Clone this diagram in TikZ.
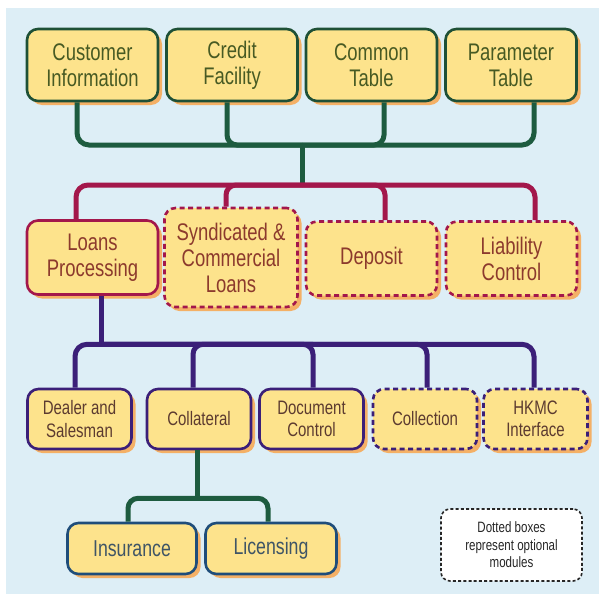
\documentclass[tikz,border=0pt]{standalone}
\usepackage{fontspec}
\setmainfont{Liberation Sans}
\newfontfamily\cond[FakeStretch=0.77]{Liberation Sans}
\usetikzlibrary{shadows,calc}
\definecolor{bgc}{HTML}{DDEEF6}
\definecolor{boxc}{HTML}{FDE38C}
\definecolor{shc}{HTML}{F4B066}
\definecolor{gdark}{HTML}{1E5036}
\definecolor{gline}{HTML}{1D5B3F}
\definecolor{gtext}{HTML}{475A23}
\definecolor{rline}{HTML}{A3174B}
\definecolor{rtext}{HTML}{8C3A2D}
\definecolor{pline}{HTML}{3B1F78}
\definecolor{ptext}{HTML}{5C3B30}
\definecolor{bline}{HTML}{1F4D7A}
\definecolor{btext}{HTML}{3F5566}
\tikzset{
  box/.style={rectangle, rounded corners=11pt, fill=boxc, line width=2.6pt,
    align=center, inner sep=0pt,
    drop shadow={shadow xshift=4pt, shadow yshift=-4pt, fill=shc, opacity=1}},
  topbox/.style={box, draw=gdark, text=gtext, font=\cond\fontsize{24}{26}\selectfont,
    minimum width=131pt, minimum height=72pt},
  midbox/.style={box, draw=rline, text=rtext, font=\cond\fontsize{24}{26}\selectfont,
    minimum width=131pt, minimum height=74pt},
  botbox/.style={box, draw=pline, text=ptext, font=\cond\fontsize{19.5}{22.5}\selectfont,
    minimum width=104pt, minimum height=60pt},
  insbox/.style={box, draw=bline, text=btext, font=\cond\fontsize{23}{26}\selectfont,
    minimum width=129pt, minimum height=51pt},
  optional/.style={dash pattern=on 5pt off 3.5pt},
  legendbox/.style={rectangle, rounded corners=9pt, fill=white, draw=black!85,
    line width=1.6pt, dash pattern=on 3pt off 2.2pt, align=center, inner sep=0pt,
    minimum width=141pt, minimum height=72pt, text=black!85,
    font=\cond\fontsize{15}{17.5}\selectfont},
  conn/.style={line width=5pt, rounded corners=10pt},
}
\begin{document}
\begin{tikzpicture}[x=1pt,y=-1pt]
\useasboundingbox (0,0) rectangle (599,605);
\fill[bgc] (6,8) rectangle (599,594);

% top row
\node[topbox] (cust)   at (92.5,65) {Customer\\Information};
\node[topbox] (credit) at (232,65)  {Credit\\Facility};
\node[topbox] (common) at (371.5,65) {Common\\Table};
\node[topbox] (param)  at (511,65)  {Parameter\\Table};

% middle row
\node[midbox] (loans)   at (92.5,257.5) {Loans\\Processing};
\node[midbox, optional, minimum width=133pt, minimum height=99pt] (synd) at (231,257.5) {Syndicated \&\\Commercial\\Loans};
\node[midbox, optional] (deposit) at (371.5,258.5) {Deposit};
\node[midbox, optional] (liab)    at (511.5,258.5) {Liability\\Control};

% bottom row
\node[botbox] (dealer) at (79.5,419) {Dealer and\\Salesman};
\node[botbox] (collat) at (199,419) {Collateral};
\node[botbox] (doc)    at (311.5,419) {Document\\Control};
\node[botbox, optional] (collect) at (425,419) {Collection};
\node[botbox, optional] (hkmc)    at (535.5,419) {HKMC\\Interface};

% lowest row
\node[insbox] (ins) at (132,548.5) {Insurance};
\node[insbox, minimum width=131pt] (lic) at (271,548.5) {Licensing};

% legend
\node[legendbox] (legend) at (511.5,545) {Dotted boxes\\represent optional\\modules};

% junction points
\coordinate (gj) at (302,145);
\coordinate (rj) at (302,185);
\coordinate (pj) at ($(loans.south)+(8.5,48.5)$);
\coordinate (bj) at ($(collat.south)+(-2,48)$);

% green top connectors
\draw[conn, gline, rounded corners=12pt] ([xshift=-15.5pt]cust.south) |- (gj);
\draw[conn, gline, rounded corners=12pt] ([xshift=23pt]param.south) |- (gj);
\draw[conn, gline] ([xshift=-5pt]credit.south) |- (gj);
\draw[conn, gline] ([xshift=12.5pt]common.south) |- (gj);
\draw[line width=5pt, gline] (gj) -- (rj);

% red connectors
\draw[conn, rline, rounded corners=12pt] ([xshift=-16.5pt]loans.north) |- (rj);
\draw[conn, rline, rounded corners=12pt] ([xshift=23.5pt]liab.north) |- (rj);
\draw[conn, rline] ([xshift=-5pt]synd.north) |- (rj);
\draw[conn, rline] ([xshift=13.5pt]deposit.north) |- (rj);

% purple connectors
\draw[line width=5pt, pline] ([xshift=8.5pt]loans.south) -- (pj);
\draw[conn, pline, rounded corners=12pt] ([xshift=-4.5pt]dealer.north) |- (pj) -| ([xshift=-1.5pt]hkmc.north);
\draw[conn, pline] ([xshift=-6pt]collat.north) |- ([xshift=1.5pt]doc.north |- pj);
\draw[conn, pline] ([xshift=1.5pt]doc.north) |- (pj);
\draw[conn, pline] ([xshift=2pt]collect.north) |- (pj);

% green bottom connectors
\draw[line width=5pt, gline] ([xshift=-2pt]collat.south) -- (bj);
\draw[conn, gline] ([xshift=-4pt]ins.north) |- (bj) -| ([xshift=-3pt]lic.north);
\end{tikzpicture}
\end{document}
